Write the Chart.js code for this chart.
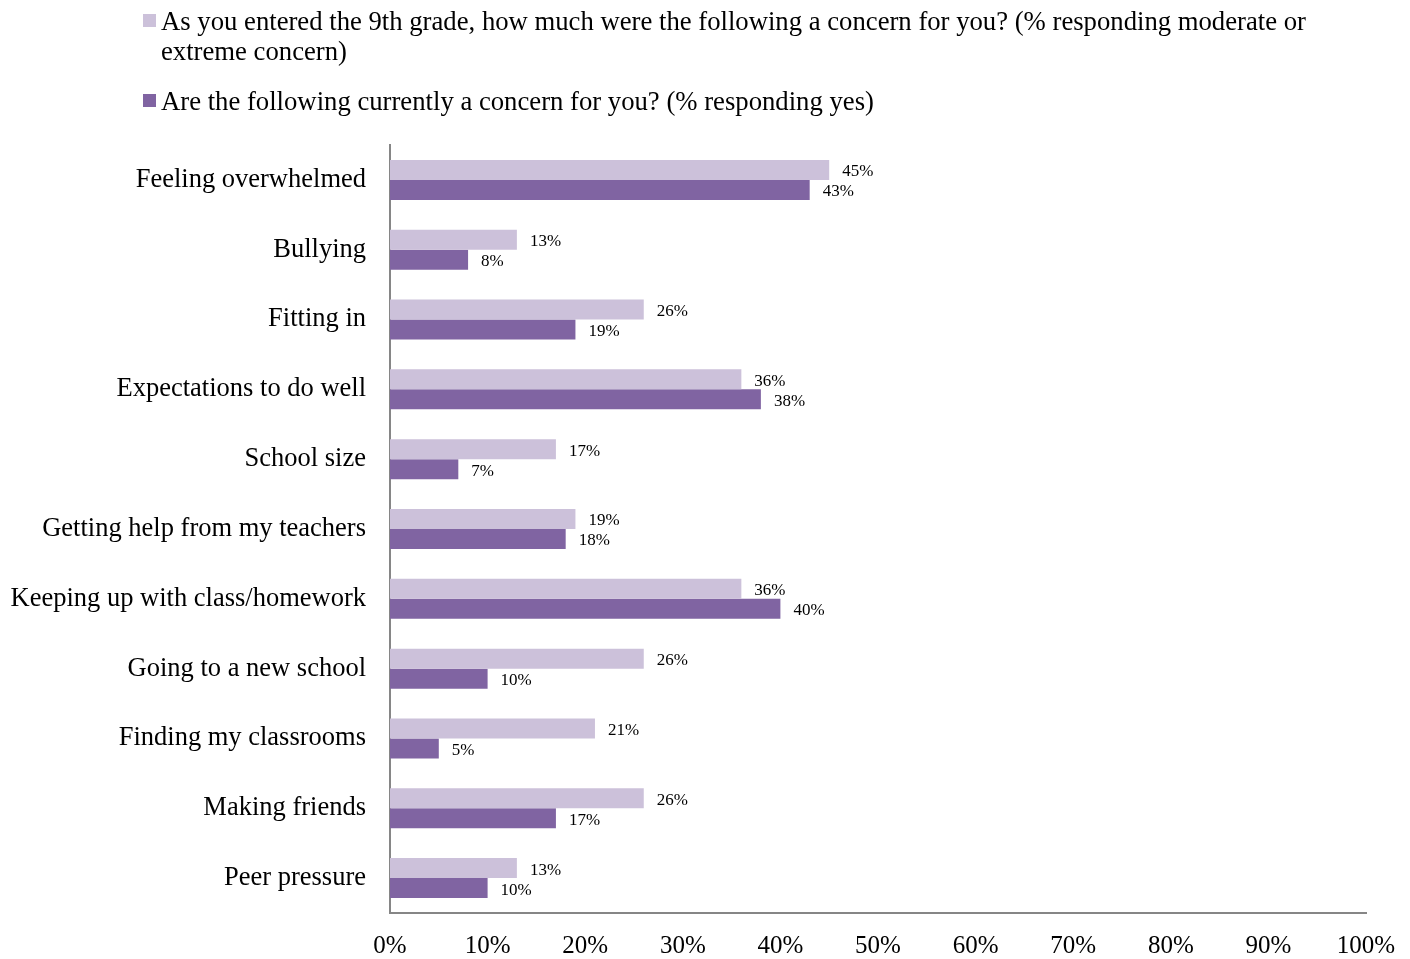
<!DOCTYPE html>
<html>
<head>
<meta charset="utf-8">
<script src="https://cdn.jsdelivr.net/npm/chart.js@4"></script>
<style>
  html, body { margin: 0; padding: 0; background: #fff; }
  #wrap { position: relative; width: 1410px; height: 959px; }
  #legend { position: absolute; left: 0; top: 0; font-family: "Liberation Serif", "Times New Roman", serif; font-size: 26.7px; color: #000; }
  .item { position: absolute; left: 161px; white-space: nowrap; line-height: 30px; }
  .box { position: absolute; left: -18px; top: 8px; width: 13px; height: 13px; }
</style>
</head>
<body>
<div id="wrap">
  <canvas id="myChart" width="1410" height="959"></canvas>
  <div id="legend"></div>
</div>
<script>
var kategorie = [
  "Feeling overwhelmed",
  "Bullying",
  "Fitting in",
  "Expectations to do well",
  "School size",
  "Getting help from my teachers",
  "Keeping up with class/homework",
  "Going to a new school",
  "Finding my classrooms",
  "Making friends",
  "Peer pressure"
];
var naWejsciu = [45, 13, 26, 36, 17, 19, 36, 26, 21, 26, 13];
var obecnie = [43, 8, 19, 38, 7, 18, 40, 10, 5, 17, 10];

var seria1 = "As you entered the 9th grade, how much were the following a concern for you? (% responding moderate or extreme concern)";
var seria2 = "Are the following currently a concern for you? (% responding yes)";

var kolorJasny = "#CCC1DA";
var kolorCiemny = "#8064A2";
var czcionka = '"Liberation Serif", "Times New Roman", serif';

// legenda w html, zeby tekst sie zawijal jak w oryginale
var legenda = document.getElementById("legend");
legenda.innerHTML =
  '<div class="item" style="top:6px"><span class="box" style="background:' + kolorJasny + '"></span>' +
  "As you entered the 9th grade, how much were the following a concern for you? (% responding moderate or<br>extreme concern)</div>" +
  '<div class="item" style="top:86px"><span class="box" style="background:' + kolorCiemny + '"></span>' +
  seria2 + "</div>";

// etykiety z wartosciami za koncem slupka
const etykietyWartosci = {
  id: "etykietyWartosci",
  afterDatasetsDraw(chart) {
    const ctx = chart.ctx;
    ctx.save();
    ctx.font = "17px " + czcionka;
    ctx.fillStyle = "#000";
    ctx.textAlign = "left";
    ctx.textBaseline = "middle";
    chart.data.datasets.forEach((ds, i) => {
      const meta = chart.getDatasetMeta(i);
      meta.data.forEach((bar, j) => {
        ctx.fillText(ds.data[j] + "%", bar.x + 13, bar.y + 2);
      });
    });
    ctx.restore();
  }
};

const config = {
  type: "bar",
  data: {
    labels: kategorie,
    datasets: [
      {
        label: seria1,
        data: naWejsciu,
        backgroundColor: kolorJasny,
        categoryPercentage: 0.573,
        barPercentage: 1.0
      },
      {
        label: seria2,
        data: obecnie,
        backgroundColor: kolorCiemny,
        categoryPercentage: 0.573,
        barPercentage: 1.0
      }
    ]
  },
  options: {
    indexAxis: "y",
    responsive: false,
    animation: false,
    layout: { padding: { left: 0, right: 44, top: 145, bottom: 0 } },
    plugins: {
      legend: { display: false },
      tooltip: { enabled: false }
    },
    scales: {
      x: {
        min: 0,
        max: 100,
        ticks: {
          stepSize: 10,
          padding: 18,
          color: "#000",
          font: { family: czcionka, size: 25 },
          callback: (v) => v + "%",
          maxRotation: 0
        },
        grid: { display: false, drawTicks: false },
        border: { display: true, color: "#868686", width: 2 },
        afterFit: (s) => {
          s.height = 46;
          s.paddingLeft = 0;
          s.paddingRight = 0;
        }
      },
      y: {
        ticks: {
          padding: 24,
          color: "#000",
          font: { family: czcionka, size: 26.5 }
        },
        grid: { display: false, drawTicks: false },
        border: { display: true, color: "#868686", width: 2 },
        afterFit: (s) => { s.width = 390; }
      }
    }
  },
  plugins: [etykietyWartosci]
};

new Chart(document.getElementById("myChart"), config);
</script>
</body>
</html>
